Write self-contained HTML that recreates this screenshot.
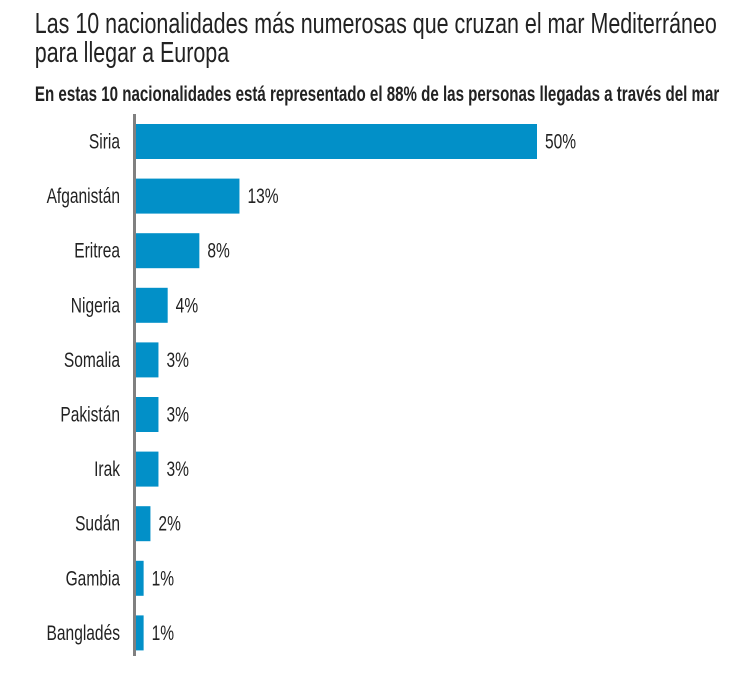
<!DOCTYPE html>
<html><head><meta charset="utf-8"><style>
body{margin:0;background:#fff;}
svg{display:block;font-family:"Liberation Sans Narrow","Liberation Sans",sans-serif;}
</style></head><body>
<svg id="chart" width="750" height="696" viewBox="0 0 750 696">
<g transform="scale(0.74,1)">
<text x="47" y="33" font-size="29" fill="#222">Las 10 nacionalidades más numerosas que cruzan el mar Mediterráneo</text>
<text x="47" y="62" font-size="29" fill="#222">para llegar a Europa</text>
</g>
<g transform="scale(0.72,1)">
<text x="48.5" y="101" font-size="21" font-weight="bold" fill="#222">En estas 10 nacionalidades está representado el 88% de las personas llegadas a través del mar</text>
</g>
<g id="bars"></g>
<rect x="133" y="114" width="3" height="542" fill="#808080"/>
</svg>
<script>
const categories=["Siria","Afganistán","Eritrea","Nigeria","Somalia","Pakistán","Irak","Sudán","Gambia","Bangladés"];
const values=[50,12.9,7.9,3.95,2.8,2.8,2.8,1.8,0.95,0.95];
const labels=["50%","13%","8%","4%","3%","3%","3%","2%","1%","1%"];
const NS="http://www.w3.org/2000/svg";
const x0=136, pxPer=8.02, y0=124, step=54.6, bh=35;
const xs=v=>v*pxPer, ys=i=>y0+i*step;
const g=document.getElementById('bars');
categories.forEach((c,i)=>{
  const r=document.createElementNS(NS,'rect');
  
  
  r.setAttribute('x',x0);r.setAttribute('y',ys(i));
  r.setAttribute('width',xs(values[i]));r.setAttribute('height',bh);
  r.setAttribute('fill','#0290c8');g.appendChild(r);
  const t=document.createElementNS(NS,'text');
  
  
  t.setAttribute('x',120/0.74);t.setAttribute('y',ys(i)+bh/2+7);
  t.setAttribute('text-anchor','end');t.setAttribute('font-size','21');t.setAttribute('fill','#222');
  t.setAttribute('transform','scale(0.74,1)');t.textContent=c;g.appendChild(t);
  const v=document.createElementNS(NS,'text');
  
  
  v.setAttribute('x',(x0+xs(values[i])+8)/0.74);v.setAttribute('y',ys(i)+bh/2+7);
  v.setAttribute('font-size','21');v.setAttribute('fill','#222');
  v.setAttribute('transform','scale(0.74,1)');v.textContent=labels[i];g.appendChild(v);
});
</script>
</body></html>
